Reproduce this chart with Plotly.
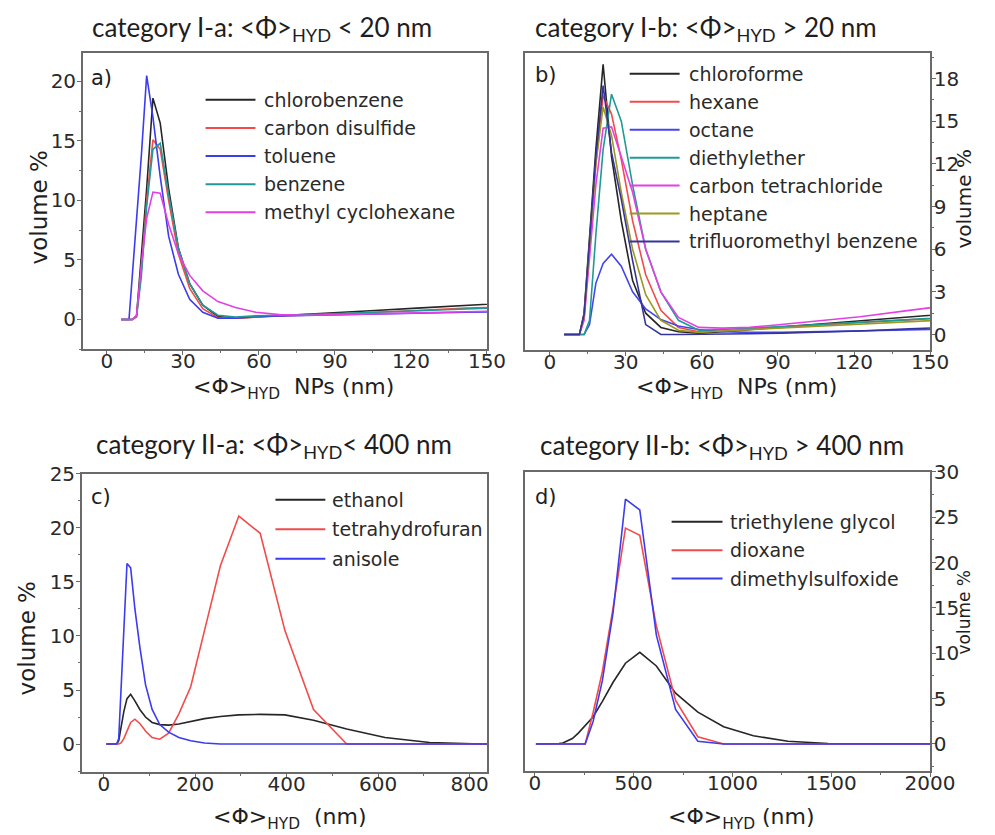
import plotly.graph_objects as go
from plotly.subplots import make_subplots

# Hydrodynamic size bins (nm) of the DLS volume distributions
size_nm = [5.615, 6.503, 7.531, 8.721, 10.1, 11.7, 13.54, 15.69, 18.17, 21.04,
           24.36, 28.21, 32.67, 37.84, 43.82, 50.75, 58.77, 68.06, 78.82, 91.28,
           105.7, 122.4, 141.8, 164.2, 190.1, 220.2, 255.0, 295.3, 342.0, 396.1,
           458.7, 531.2, 615.1, 712.4, 825.0, 955.4, 1106, 1281, 1484, 1718,
           1990, 2305]

# ---- a) category I-a ----
size_a = size_nm[:24]
names_a = ["chlorobenzene", "carbon disulfide", "toluene", "benzene", "methyl cyclohexane"]
colors_a = ["#262626", "#f24b4b", "#3b3bf0", "#1f9a94", "#e43fe4"]
chlorobenzene = [0, 0, 0, 0, 0, 0.3, 5, 11, 18.6, 16.5, 11, 6, 3, 1.2, 0.25, 0.1, 0.2, 0.3, 0.4, 0.55, 0.75, 0.95, 1.2, 1.45]
carbon_disulfide = [0, 0, 0, 0, 0, 0.3, 4, 10, 15.1, 14.3, 10, 5.5, 2.6, 0.9, 0.15, 0.1, 0.2, 0.3, 0.35, 0.45, 0.6, 0.75, 0.95, 1.1]
toluene = [0, 0, 0, 0, 3.9, 8.4, 13.6, 20.5, 17, 12, 7, 3.8, 1.7, 0.6, 0.1, 0.1, 0.25, 0.3, 0.35, 0.4, 0.45, 0.5, 0.6, 0.65]
benzene = [0, 0, 0, 0, 0, 0.2, 3.5, 9.5, 14.3, 14.8, 10.5, 6, 3, 1.2, 0.35, 0.2, 0.3, 0.35, 0.4, 0.5, 0.6, 0.75, 0.9, 1.05]
methyl_cyclohexane = [0, 0, 0, 0, 0, 0.3, 4.5, 8.5, 10.7, 10.6, 8, 5.5, 3.7, 2.4, 1.5, 1.0, 0.6, 0.4, 0.35, 0.4, 0.45, 0.55, 0.65, 0.75]
values_a = [chlorobenzene, carbon_disulfide, toluene, benzene, methyl_cyclohexane]

# ---- b) category I-b ----
size_b = size_nm[:24]
names_b = ["chloroforme", "hexane", "octane", "diethylether",
           "carbon tetrachloride", "heptane", "trifluoromethyl benzene"]
colors_b = ["#262626", "#f24b4b", "#4545ee", "#1f9a94", "#e43fe4", "#9c9a1e", "#34349a"]
chloroforme = [0, 0, 0, 0, 0, 0, 1.5, 7, 13, 19, 12.5, 8, 3.8, 1.5, 0.5, 0.2, 0.1, 0.2, 0.35, 0.5, 0.7, 0.95, 1.25, 1.55]
hexane = [0, 0, 0, 0, 0, 0, 1.2, 6, 12, 16.8, 15.5, 12.3, 8, 4.2, 1.7, 0.5, 0.2, 0.25, 0.35, 0.5, 0.65, 0.85, 1.05, 1.25]
octane = [0, 0, 0, 0, 0, 0, 0, 0.7, 3.6, 5, 5.65, 4.8, 3.0, 1.8, 1.05, 0.6, 0.35, 0.2, 0.15, 0.15, 0.2, 0.25, 0.35, 0.4]
diethylether = [0, 0, 0, 0, 0, 0, 0, 1, 7, 13, 16.9, 15, 10.5, 6, 3, 1.0, 0.3, 0.35, 0.45, 0.55, 0.7, 0.85, 1.05, 1.3]
carbon_tetrachloride = [0, 0, 0, 0, 0, 0, 1, 5.5, 10.5, 14.5, 14.6, 12.5, 10, 6, 3, 1.2, 0.5, 0.45, 0.5, 0.7, 0.95, 1.25, 1.7, 2.2]
heptane = [0, 0, 0, 0, 0, 0, 1.3, 6.5, 12, 16, 14, 10, 6, 2.8, 1.0, 0.3, 0.15, 0.25, 0.35, 0.45, 0.6, 0.75, 0.9, 1.1]
trifluoromethyl_benzene = [0, 0, 0, 0, 0, 0, 1.4, 6.5, 12.5, 17.5, 12.8, 9.5, 5.2, 0.7, 0, 0, 0, 0, 0.05, 0.1, 0.15, 0.25, 0.4, 0.55]
values_b = [chloroforme, hexane, octane, diethylether, carbon_tetrachloride, heptane, trifluoromethyl_benzene]

# ---- c) category II-a ----
size_c = size_nm[:36]
names_c = ["ethanol", "tetrahydrofuran", "anisole"]
colors_c = ["#262626", "#f24b4b", "#3b3bf0"]
ethanol = [0] * 12 + [0.3, 1.5, 3, 4.2, 4.6, 4.0, 3.2, 2.5, 2.0, 1.8, 1.75, 1.85, 2.1, 2.35,
                      2.55, 2.7, 2.75, 2.7, 2.2, 1.4, 0.6, 0.15, 0, 0]
tetrahydrofuran = [0] * 13 + [0.1, 0.5, 1.2, 2.0, 2.3, 1.9, 1.2, 0.6, 0.45, 1.0, 2.8, 5.3, 10.5,
                              16.5, 21.1, 19.5, 10.5, 3.2, 0, 0, 0, 0, 0]
anisole = [0] * 12 + [0.5, 5, 10.5, 16.7, 16.3, 12.5, 9, 5.5, 3.2, 1.8, 1.1, 0.6, 0.3, 0.1,
                      0, 0, 0, 0, 0, 0, 0, 0, 0, 0]
values_c = [ethanol, tetrahydrofuran, anisole]

# ---- d) category II-b ----
size_d = size_nm
names_d = ["triethylene glycol", "dioxane", "dimethylsulfoxide"]
colors_d = ["#262626", "#f24b4b", "#3b3bf0"]
triethylene_glycol = [0] * 19 + [0, 0, 0.05, 0.1, 0.3, 0.6, 1.2, 2.0, 3.0, 4.7, 6.8, 8.9, 10.1,
                                 8.6, 5.6, 3.5, 1.9, 0.9, 0.3, 0.05, 0, 0, 0]
dioxane = [0] * 27 + [3.5, 8, 15, 23.8, 23.0, 13, 4.8, 0.8, 0, 0, 0, 0, 0, 0, 0]
dimethylsulfoxide = [0] * 27 + [2.5, 7, 14.5, 27.0, 25.8, 12, 3.8, 0.3, 0, 0, 0, 0, 0, 0, 0]
values_d = [triethylene_glycol, dioxane, dimethylsulfoxide]

W, H = 995, 835
# drawing box (px) onto which paper coordinates are laid out
BOX_X0, BOX_W = -1.0, 972.0
BOX_Y0, BOX_H = 9.0, 825.0


def X(px):
    return (px - BOX_X0) / BOX_W


def Y(py):
    return 1 - (py - BOX_Y0) / BOX_H


SANS = "DejaVu Sans, Liberation Sans, Arial, sans-serif"
TICK_FONT = dict(family=SANS, size=20, color="#2a2a2a")
TITLE_FONT = dict(family="Lato, Open Sans, sans-serif", size=26, color="#1e1e1e")
FRAME = "#6a6a6a"

fig = make_subplots(rows=2, cols=2)

panels = [
    (1, 1, size_a, names_a, colors_a, values_a),
    (1, 2, size_b, names_b, colors_b, values_b),
    (2, 1, size_c, names_c, colors_c, values_c),
    (2, 2, size_d, names_d, colors_d, values_d),
]
for r, c, xs, names, cols, vals in panels:
    for name, col, ys in zip(names, cols, vals):
        fig.add_trace(go.Scatter(x=xs, y=ys, name=name, mode="lines",
                                 line=dict(color=col, width=1.6), showlegend=False),
                      row=r, col=c)

# axis geometry (pixel boxes of the four frames)
boxes = {
    1: (82, 487, 50, 347),
    2: (525, 931, 50, 348),
    3: (81, 487, 472, 771),
    4: (525, 931, 470, 770),
}
xranges = {1: [-9.5, 150], 2: [-9.8, 150], 3: [-48, 838], 4: [-50, 2000]}
yranges = {1: [-2.5, 22.4], 2: [-1.1, 19.8], 3: [-2.6, 25], 4: [-3, 30]}
xticks = {1: (30, 15), 2: (30, 15), 3: (200, 100), 4: (500, 250)}
yticks = {1: (5, 2.5), 2: (3, 1.5), 3: (5, 2.5), 4: (5, 2.5)}

for i in range(1, 5):
    x0, x1, y0, y1 = boxes[i]
    sx = "" if i == 1 else str(i)
    right = i in (2, 4)
    fig.layout["xaxis" + sx].update(
        domain=[X(x0), X(x1)], range=xranges[i], dtick=xticks[i][0], tick0=0,
        showgrid=False, zeroline=False, showline=True, linecolor=FRAME, linewidth=1.5,
        mirror=True, ticks="outside", ticklen=4, tickcolor=FRAME, tickwidth=1,
        tickfont=TICK_FONT, ticklabelstandoff=-11,
        minor=dict(dtick=xticks[i][1], tick0=0, ticks="outside", ticklen=2, tickcolor=FRAME),
    )
    fig.layout["yaxis" + sx].update(
        domain=[Y(y1), Y(y0)], range=yranges[i], dtick=yticks[i][0], tick0=0,
        side="right" if right else "left",
        showgrid=False, zeroline=False, showline=True, linecolor=FRAME, linewidth=1.5,
        mirror=True, ticks="outside", ticklen=4, tickcolor=FRAME, tickwidth=1,
        tickfont=TICK_FONT, ticklabelstandoff=-6 if right else -3,
        minor=dict(dtick=yticks[i][1], tick0=0, ticks="outside", ticklen=2, tickcolor=FRAME),
    )

ann = []
shapes = []

# panel titles
titles = [
    ("category I-a: &lt;Φ&gt;<sub>HYD</sub> &lt; 20 nm", 262, 26),
    ("category I-b: &lt;Φ&gt;<sub>HYD</sub> &gt; 20 nm", 706, 26),
    ("category II-a: &lt;Φ&gt;<sub>HYD</sub>&lt; 400 nm", 274, 444),
    ("category II-b: &lt;Φ&gt;<sub>HYD</sub> &gt; 400 nm", 722, 445),
]
for txt, cx, cy in titles:
    ann.append(dict(text=txt, x=X(cx), y=Y(cy), xref="paper", yref="paper",
                    xanchor="center", yanchor="middle", showarrow=False, font=TITLE_FONT))

# x axis titles
xtitles = [
    ("&lt;Φ&gt;<sub>HYD</sub>  NPs (nm)", 293, 386),
    ("&lt;Φ&gt;<sub>HYD</sub>  NPs (nm)", 737, 386),
    ("&lt;Φ&gt;<sub>HYD</sub>  (nm)", 290, 817),
    ("&lt;Φ&gt;<sub>HYD</sub> (nm)", 742, 817),
]
for txt, cx, cy in xtitles:
    ann.append(dict(text=txt, x=X(cx), y=Y(cy), xref="paper", yref="paper",
                    xanchor="center", yanchor="middle", showarrow=False,
                    font=dict(family=SANS, size=22, color="#1e1e1e")))

# y axis titles
ytitles = [(38, 205, 23), (965, 197, 20), (27, 637, 23), (965, 611, 17)]
for cx, cy, fs in ytitles:
    ann.append(dict(text="volume %", x=X(cx), y=Y(cy), xref="paper", yref="paper",
                    xanchor="center", yanchor="middle", textangle=-90, showarrow=False,
                    font=dict(family=SANS, size=fs, color="#1e1e1e")))

# panel letters
for lab, cx, cy in [("a)", 101, 75), ("b)", 546, 72), ("c)", 100, 495), ("d)", 546, 495)]:
    ann.append(dict(text=lab, x=X(cx), y=Y(cy), xref="paper", yref="paper",
                    xanchor="center", yanchor="middle", showarrow=False,
                    font=dict(family=SANS, size=21, color="#1e1e1e")))

# per-panel legends: line sample + label
legends = [
    (names_a, colors_a, 205, 255, 262, 97, 28.2),
    (names_b, colors_b, 630, 680, 687, 71, 28.0),
    (names_c, colors_c, 275, 325, 330, 498, 29.5),
    (names_d, colors_d, 672, 723, 728, 520, 28.5),
]
for names, cols, lx0, lx1, tx, ty0, gap in legends:
    for k, (name, col) in enumerate(zip(names, cols)):
        yy = ty0 + k * gap
        shapes.append(dict(type="line", xref="paper", yref="paper",
                           x0=X(lx0), x1=X(lx1), y0=Y(yy), y1=Y(yy),
                           line=dict(color=col, width=2)))
        ann.append(dict(text=name, x=X(tx), y=Y(yy), xref="paper", yref="paper",
                        xanchor="left", yanchor="middle", showarrow=False,
                        font=dict(family=SANS, size=19, color="#2a2a2a")))

fig.update_layout(
    width=W, height=H, margin=dict(l=0, r=0, t=0, b=0),
    paper_bgcolor="white", plot_bgcolor="white",
    annotations=ann, shapes=shapes, showlegend=False,
)

fig.write_html("out.html")
